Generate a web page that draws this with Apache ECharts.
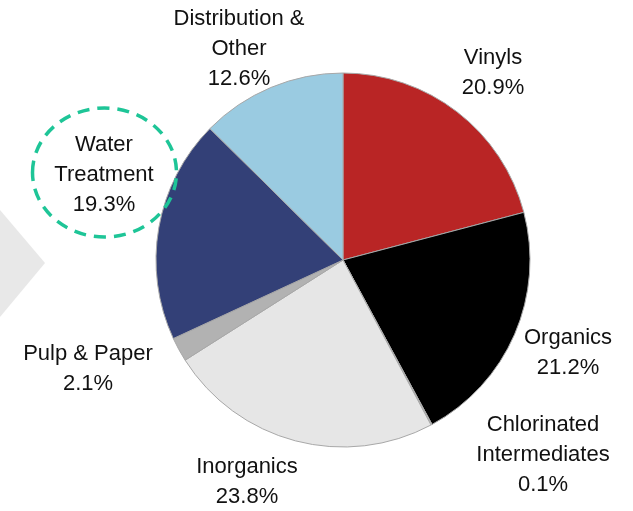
<!DOCTYPE html>
<html>
<head>
<meta charset="utf-8">
<script src="https://cdn.jsdelivr.net/npm/echarts@6/dist/echarts.min.js"></script>
<style>
  html, body { margin: 0; padding: 0; background: #fff; }
  #main { width: 633px; height: 511px; }
</style>
</head>
<body>
<div id="main"></div>
<script>
// data, clockwise from 12 o'clock
const categories = ['Vinyls', 'Organics', 'Chlorinated\nIntermediates', 'Inorganics', 'Pulp & Paper', 'Water\nTreatment', 'Distribution &\nOther'];
const shares = [20.9, 21.2, 0.1, 23.8, 2.1, 19.3, 12.6];
const colors = ['#b92525', '#000000', '#c8c8c8', '#e6e6e6', '#b2b2b2', '#334077', '#9acbe1'];

// label centres (pixels)
const labelPos = [[493, 73], [568, 353], [543, 455], [247, 482], [88, 369], [104, 175], [239, 49]];

const chart = echarts.init(document.getElementById('main'));

const option = {
  animation: false,
  backgroundColor: '#ffffff',
  graphic: [
    {
      type: 'polygon',
      z: 0,
      shape: { points: [[0, 210], [45, 263], [0, 317]] },
      style: { fill: '#e8e8e8' }
    },
    {
      type: 'ellipse',
      z: 100,
      shape: { cx: 104.5, cy: 172.5, rx: 72, ry: 64.5 },
      style: { fill: 'none', stroke: '#1ec597', lineWidth: 3.5, lineDash: [12, 8] }
    }
  ],
  series: [
    {
      type: 'pie',
      center: [343, 260],
      radius: 187,
      startAngle: 90,
      clockwise: true,
      avoidLabelOverlap: false,
      itemStyle: { borderColor: '#a8a8a8', borderWidth: 1 },
      label: {
        show: true,
        color: '#111',
        fontFamily: "'Liberation Sans', Arial, sans-serif",
        fontSize: 22,
        lineHeight: 30,
        align: 'center',
        formatter: function (p) {
          return p.name + '\n' + p.value.toFixed(1) + '%';
        }
      },
      labelLine: { show: false },
      labelLayout: function (params) {
        const pos = labelPos[params.dataIndex];
        return { x: pos[0], y: pos[1], align: 'center', verticalAlign: 'middle' };
      },
      emphasis: { disabled: true },
      data: categories.map(function (name, i) {
        return { name: name, value: shares[i], itemStyle: { color: colors[i] } };
      })
    }
  ]
};

chart.setOption(option);
window.addEventListener('resize', function () {
  chart.resize();
});
</script>
</body>
</html>
